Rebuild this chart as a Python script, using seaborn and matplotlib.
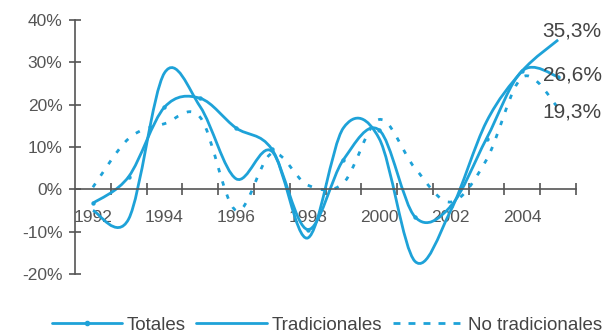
import numpy as np
import matplotlib
matplotlib.use("Agg")
import matplotlib.pyplot as plt
from matplotlib.path import Path
from matplotlib.patches import PathPatch
from matplotlib.lines import Line2D
import seaborn as sns

# datos anuales (variación %)
years = list(range(1992, 2006))
totales = [-3.3, 3, 19.4, 21.5, 14.5, 9.5, -9.5, 7, 14, -6.5, -4, 12, 28, 26.6]
tradicionales = [-5, -7, 27.5, 19.5, 2.5, 9, -11.5, 14.5, 12, -17, -5, 16, 28, 35.3]
no_tradicionales = [0.5, 12, 15.5, 17, -5, 8.5, 1, 1.5, 16.5, 5, -3, 7, 26.5, 19.3]
year_labels = [1992, 1994, 1996, 1998, 2000, 2002, 2004]
y_ticks = [-20, -10, 0, 10, 20, 30, 40]

color = "#1ea2d8"
grey = "#555555"


def smooth_path(x, y):
    # curva suavizada tipo Excel (Bezier cúbica)
    n = len(x)
    verts = [(x[0], y[0])]
    codes = [Path.MOVETO]
    for i in range(n - 1):
        i0 = max(i - 1, 0)
        i2 = min(i + 2, n - 1)
        c1 = (x[i] + (x[i + 1] - x[i0]) / 6, y[i] + (y[i + 1] - y[i0]) / 6)
        c2 = (x[i + 1] - (x[i2] - x[i]) / 6, y[i + 1] - (y[i2] - y[i]) / 6)
        verts += [c1, c2, (x[i + 1], y[i + 1])]
        codes += [Path.CURVE4] * 3
    return Path(verts, codes)


sns.set_style("white")
plt.rcParams["font.family"] = ["Liberation Sans", "DejaVu Sans"]

fig = plt.figure(figsize=(6.11, 3.35), dpi=100)
ax = fig.add_axes([75 / 611, 1 - 274 / 335, 501 / 611, 254 / 335])

lw = 2.0
ax.add_patch(PathPatch(smooth_path(years, no_tradicionales), fill=False,
                       edgecolor=color, lw=lw, linestyle=(0, (1.6, 3.4))))
ax.add_patch(PathPatch(smooth_path(years, tradicionales), fill=False,
                       edgecolor=color, lw=lw))
ax.add_patch(PathPatch(smooth_path(years, totales), fill=False,
                       edgecolor=color, lw=lw))
sns.scatterplot(x=years, y=totales, ax=ax, color=color, s=10, linewidth=0, zorder=3)

ax.set_xlim(1991.5, 2005.5)
ax.set_ylim(-20, 40)

ax.spines["top"].set_visible(False)
ax.spines["right"].set_visible(False)
ax.spines["bottom"].set_position(("data", 0))
for s in ("left", "bottom"):
    ax.spines[s].set_color(grey)
    ax.spines[s].set_linewidth(1.2)

ax.set_yticks(y_ticks)
ax.set_yticklabels([f"{v}%" for v in y_ticks])
ax.tick_params(axis="y", left=True, direction="inout", length=8, width=1.2, color=grey,
               labelsize=12.5, labelcolor=grey, pad=5)

ax.set_xticks([y + 0.5 for y in years[:-1]] + [2005.5])
ax.set_xticklabels([])
ax.tick_params(axis="x", which="major", bottom=True, direction="inout", length=8,
               width=1.2, color=grey)
ax.set_xticks(year_labels, minor=True)
ax.set_xticklabels([str(y) for y in year_labels], minor=True)
ax.tick_params(axis="x", which="minor", bottom=True, length=0, pad=15, labelsize=12.5,
               labelcolor=grey)

# etiquetas de valores finales
for val, ypos in zip([tradicionales[-1], totales[-1], no_tradicionales[-1]], [37.4, 27.0, 18.2]):
    ax.text(2004.57, ypos, f"{val:.1f}%".replace(".", ","), ha="left", va="center",
            fontsize=15, color="#444444")

handles = [
    Line2D([], [], color=color, lw=lw, marker="o", markersize=3),
    Line2D([], [], color=color, lw=lw),
    Line2D([], [], color=color, lw=lw, linestyle=(0, (2.5, 2.9))),
]
fig.legend(handles, ["Totales", "Tradicionales", "No tradicionales"], loc="center",
           bbox_to_anchor=(0.535, 0.03), ncol=3, frameon=False, fontsize=13.5,
           handlelength=3.75, handletextpad=0.27, columnspacing=0.55,
           labelcolor="#444444")

fig.savefig("out.png", dpi=100)
